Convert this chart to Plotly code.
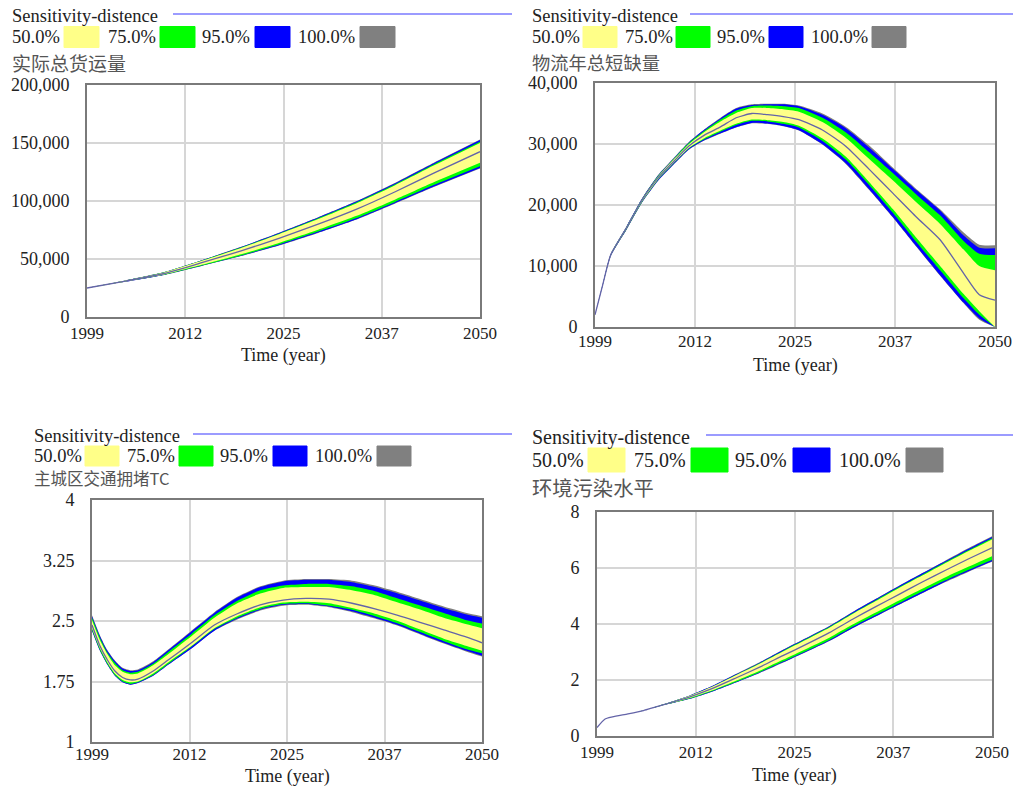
import plotly.graph_objects as go

W, H = 1013, 788

# ---------------- data ----------------
# Panel 1: 实际总货运量 (thousands)
p1_years = [1999, 2004, 2009, 2014, 2019, 2024, 2029, 2034, 2039, 2044, 2050]
p1_lo100 = [25.0, 30.5, 36.2, 44.2, 52.5, 61.8, 72.5, 84.0, 97.8, 112.0, 128.0]
p1_lo95 = [25.0, 30.5, 36.3, 44.3, 52.7, 62.0, 72.8, 84.3, 98.2, 112.4, 128.4]
p1_lo75 = [25.0, 30.6, 36.4, 44.6, 53.1, 62.7, 73.6, 85.3, 99.2, 113.7, 130.0]
p1_lo50 = [25.0, 30.7, 36.7, 45.2, 54.1, 64.0, 75.2, 87.2, 101.4, 116.2, 133.0]
p1_mid = [25.0, 31.0, 37.5, 47.0, 57.0, 68.0, 80.0, 93.0, 108.0, 124.0, 142.5]
p1_hi50 = [25.0, 31.4, 38.4, 48.6, 59.5, 71.5, 84.4, 98.1, 113.6, 130.5, 150.0]
p1_hi75 = [25.0, 31.4, 38.5, 48.9, 59.9, 72.0, 85.1, 98.9, 114.5, 131.5, 151.0]
p1_hi95 = [25.0, 31.5, 38.6, 49.1, 60.3, 72.6, 85.7, 99.7, 115.4, 132.6, 152.6]
p1_hi100 = [25.0, 31.5, 38.7, 49.2, 60.5, 72.8, 86.0, 100.0, 115.8, 133.0, 153.0]

# Panel 2: 物流年总短缺量 (thousands)
p2_years = [1999, 2000, 2001, 2003, 2005, 2007, 2009, 2011, 2013, 2015, 2017, 2019,
            2021, 2023, 2025, 2028, 2031, 2034, 2037, 2040, 2043, 2046, 2048, 2050]
p2_lo100 = [2.0, 6.9, 11.6, 15.9, 20.4, 23.9, 26.6, 29.1, 30.6, 31.7, 32.7, 33.4,
            33.3, 32.9, 32.2, 29.9, 26.7, 22.4, 17.9, 13.1, 8.4, 3.9, 1.2, 0.0]
p2_lo95 = [2.0, 6.9, 11.6, 15.95, 20.45, 23.95, 26.65, 29.15, 30.65, 31.75, 32.75, 33.45,
           33.35, 32.95, 32.25, 29.95, 26.8, 22.5, 18.0, 13.2, 8.5, 4.0, 1.4, 0.0]
p2_lo75 = [2.0, 6.95, 11.7, 16.0, 20.5, 24.1, 26.8, 29.3, 30.8, 32.0, 33.1, 33.8,
           33.7, 33.3, 32.7, 30.5, 27.4, 23.2, 18.7, 13.9, 9.3, 4.7, 2.0, 0.0]
p2_lo50 = [2.0, 6.95, 11.7, 16.1, 20.6, 24.2, 26.9, 29.4, 31.0, 32.2, 33.3, 34.0,
           33.9, 33.6, 33.0, 30.9, 27.9, 23.7, 19.3, 14.6, 10.0, 5.4, 2.6, 0.0]
p2_mid = [2.0, 7.0, 11.8, 16.2, 20.8, 24.4, 27.1, 29.7, 31.5, 32.8, 34.3, 35.0,
          34.8, 34.5, 34.0, 32.3, 29.6, 25.8, 21.9, 18.0, 14.3, 8.8, 5.3, 4.4]
p2_hi50 = [2.0, 7.0, 11.85, 16.3, 20.9, 24.6, 27.4, 30.0, 32.0, 33.7, 35.1, 35.9,
           35.9, 35.7, 35.3, 33.6, 31.0, 27.5, 24.0, 20.4, 16.9, 12.7, 10.0, 9.3]
p2_hi75 = [2.0, 7.05, 11.9, 16.35, 21.0, 24.7, 27.5, 30.2, 32.2, 34.0, 35.5, 36.2,
           36.3, 36.2, 35.9, 34.3, 31.9, 28.6, 25.2, 21.7, 18.3, 14.1, 12.0, 11.8]
p2_hi95 = [2.0, 7.1, 11.95, 16.4, 21.05, 24.8, 27.6, 30.3, 32.4, 34.2, 35.8, 36.4,
           36.5, 36.5, 36.2, 34.8, 32.6, 29.4, 25.9, 22.4, 19.1, 15.0, 13.0, 12.9]
p2_hi100 = [2.0, 7.1, 12.0, 16.45, 21.1, 24.85, 27.65, 30.35, 32.45, 34.3, 35.9, 36.5,
            36.6, 36.6, 36.3, 35.0, 32.8, 29.7, 26.1, 22.6, 19.3, 15.5, 13.5, 13.4]

# Panel 3: 主城区交通拥堵TC
p3_years = [1999, 2000, 2001, 2002, 2003, 2004, 2005, 2007, 2009, 2012, 2015, 2018,
            2021, 2024, 2027, 2030, 2033, 2036, 2039, 2042, 2045, 2048, 2050]
p3_lo100 = [2.38, 2.14, 1.96, 1.82, 1.74, 1.71, 1.73, 1.82, 1.96, 2.16, 2.38, 2.52,
            2.63, 2.69, 2.70, 2.67, 2.61, 2.53, 2.44, 2.33, 2.22, 2.12, 2.06]
p3_lo95 = [2.38, 2.14, 1.96, 1.82, 1.74, 1.71, 1.73, 1.82, 1.96, 2.16, 2.38, 2.53,
           2.64, 2.70, 2.71, 2.68, 2.62, 2.54, 2.45, 2.34, 2.23, 2.13, 2.07]
p3_lo75 = [2.39, 2.15, 1.97, 1.83, 1.75, 1.72, 1.74, 1.83, 1.97, 2.18, 2.40, 2.54,
           2.65, 2.71, 2.72, 2.69, 2.64, 2.56, 2.47, 2.36, 2.25, 2.15, 2.10]
p3_lo50 = [2.41, 2.17, 1.99, 1.85, 1.77, 1.74, 1.75, 1.85, 1.99, 2.19, 2.41, 2.56,
           2.67, 2.73, 2.74, 2.72, 2.66, 2.59, 2.50, 2.39, 2.28, 2.19, 2.13]
p3_mid = [2.45, 2.20, 2.02, 1.88, 1.80, 1.77, 1.78, 1.88, 2.02, 2.23, 2.45, 2.59,
          2.70, 2.76, 2.78, 2.77, 2.72, 2.65, 2.57, 2.48, 2.39, 2.30, 2.23]
p3_hi50 = [2.51, 2.27, 2.09, 1.95, 1.87, 1.84, 1.85, 1.95, 2.09, 2.31, 2.54, 2.72,
           2.84, 2.91, 2.92, 2.92, 2.88, 2.82, 2.73, 2.64, 2.54, 2.46, 2.41]
p3_hi75 = [2.54, 2.30, 2.11, 1.98, 1.89, 1.86, 1.87, 1.97, 2.12, 2.34, 2.57, 2.75,
           2.88, 2.94, 2.96, 2.96, 2.93, 2.87, 2.78, 2.69, 2.60, 2.51, 2.47]
p3_hi95 = [2.56, 2.32, 2.13, 2.00, 1.91, 1.88, 1.89, 1.99, 2.14, 2.37, 2.60, 2.79,
           2.92, 2.99, 3.01, 3.01, 2.98, 2.92, 2.84, 2.75, 2.66, 2.58, 2.54]
p3_hi100 = [2.57, 2.33, 2.14, 2.01, 1.92, 1.89, 1.90, 2.00, 2.15, 2.38, 2.61, 2.80,
            2.93, 3.00, 3.02, 3.02, 3.00, 2.94, 2.86, 2.77, 2.68, 2.60, 2.56]

# Panel 4: 环境污染水平
p4_years = [1999, 2000, 2001, 2003, 2005, 2008, 2011, 2014, 2017, 2020, 2023, 2026,
            2029, 2032, 2035, 2038, 2041, 2044, 2047, 2050]
p4_lo100 = [0.30, 0.60, 0.68, 0.79, 0.91, 1.13, 1.33, 1.60, 1.92, 2.25, 2.62, 3.00,
            3.39, 3.85, 4.27, 4.69, 5.10, 5.50, 5.87, 6.22]
p4_lo95 = [0.30, 0.60, 0.68, 0.79, 0.91, 1.13, 1.33, 1.60, 1.92, 2.26, 2.63, 3.01,
           3.40, 3.86, 4.28, 4.70, 5.11, 5.52, 5.89, 6.24]
p4_lo75 = [0.30, 0.60, 0.68, 0.79, 0.91, 1.13, 1.34, 1.62, 1.94, 2.28, 2.66, 3.04,
           3.43, 3.90, 4.32, 4.74, 5.16, 5.56, 5.94, 6.29]
p4_lo50 = [0.30, 0.60, 0.68, 0.79, 0.91, 1.14, 1.36, 1.64, 1.98, 2.33, 2.72, 3.11,
           3.51, 3.98, 4.41, 4.84, 5.26, 5.67, 6.05, 6.42]
p4_mid = [0.30, 0.60, 0.68, 0.79, 0.91, 1.15, 1.40, 1.71, 2.08, 2.46, 2.87, 3.27,
          3.69, 4.17, 4.62, 5.06, 5.50, 5.92, 6.33, 6.72]
p4_hi50 = [0.30, 0.60, 0.68, 0.79, 0.91, 1.16, 1.44, 1.78, 2.18, 2.58, 3.02, 3.44,
           3.87, 4.36, 4.82, 5.29, 5.73, 6.18, 6.61, 7.02]
p4_hi75 = [0.30, 0.60, 0.68, 0.79, 0.91, 1.17, 1.44, 1.78, 2.19, 2.60, 3.04, 3.46,
           3.89, 4.38, 4.85, 5.32, 5.76, 6.21, 6.64, 7.06]
p4_hi95 = [0.30, 0.60, 0.68, 0.79, 0.91, 1.17, 1.45, 1.80, 2.21, 2.62, 3.07, 3.49,
           3.92, 4.42, 4.89, 5.36, 5.81, 6.25, 6.69, 7.11]
p4_hi100 = [0.30, 0.60, 0.68, 0.79, 0.91, 1.17, 1.45, 1.80, 2.22, 2.63, 3.08, 3.50,
            3.93, 4.43, 4.90, 5.37, 5.82, 6.27, 6.71, 7.13]

titles = ["实际总货运量", "物流年总短缺量", "主城区交通拥堵TC", "环境污染水平"]
legend_labels = ["50.0%", "75.0%", "95.0%", "100.0%"]
x_tickvals = [1999, 2011.75, 2024.5, 2037.25, 2050]
x_ticktext = ["1999", "2012", "2025", "2037", "2050"]
y_ticks = [
    [0, 50000, 100000, 150000, 200000],
    [0, 10000, 20000, 30000, 40000],
    [1, 1.75, 2.5, 3.25, 4],
    [0, 2, 4, 6, 8],
]
y_ticktext = [
    ["0", "50,000", "100,000", "150,000", "200,000"],
    ["0", "10,000", "20,000", "30,000", "40,000"],
    ["1", "1.75", "2.5", "3.25", "4"],
    ["0", "2", "4", "6", "8"],
]

# ---------------- styling ----------------
C_YELLOW = "#ffff88"
C_GREEN = "#00ff00"
C_BLUE = "#0000ff"
C_GRAY = "#808080"
C_MID = "#6464a8"
SERIF = "Liberation Serif"
CJK = "Noto Sans CJK SC"

def X(p):
    return p / W

def Y(p):
    return 1 - p / H

# plot frames in pixels: (left, top, right, bottom)
frames = [(87, 85, 480, 317), (595, 83, 995, 327), (92, 500, 482, 742), (597, 512, 992, 736)]
time_title_offset = [38, 38, 34, 39]
x_standoff = [0, -2, -4, 0]

panels = [
    (p1_years, [v * 1000 for v in p1_lo100], [v * 1000 for v in p1_lo95], [v * 1000 for v in p1_lo75],
     [v * 1000 for v in p1_lo50], [v * 1000 for v in p1_mid], [v * 1000 for v in p1_hi50],
     [v * 1000 for v in p1_hi75], [v * 1000 for v in p1_hi95], [v * 1000 for v in p1_hi100]),
    (p2_years, [v * 1000 for v in p2_lo100], [v * 1000 for v in p2_lo95], [v * 1000 for v in p2_lo75],
     [v * 1000 for v in p2_lo50], [v * 1000 for v in p2_mid], [v * 1000 for v in p2_hi50],
     [v * 1000 for v in p2_hi75], [v * 1000 for v in p2_hi95], [v * 1000 for v in p2_hi100]),
    (p3_years, p3_lo100, p3_lo95, p3_lo75, p3_lo50, p3_mid, p3_hi50, p3_hi75, p3_hi95, p3_hi100),
    (p4_years, p4_lo100, p4_lo95, p4_lo75, p4_lo50, p4_mid, p4_hi50, p4_hi75, p4_hi95, p4_hi100),
]

fig = go.Figure()
layout = dict(
    width=W, height=H, margin=dict(l=0, r=0, t=0, b=0, autoexpand=False),
    paper_bgcolor="white", plot_bgcolor="white", showlegend=False,
)

annotations = []
shapes = []

headers = [
    dict(tx=10, hy=16, lx0=173, lx1=512, ly=37, ty=63,
         lab_x=[10, 106, 200, 296], sw_x=[64, 160, 255, 360], sw_w=35, sw_h=21, fs=18.5, tfs=19),
    dict(tx=530, hy=16, lx0=690, lx1=1013, ly=37, ty=62,
         lab_x=[530, 623, 715, 809], sw_x=[583, 676, 769, 872], sw_w=34, sw_h=21, fs=18.5, tfs=18.3),
    dict(tx=32, hy=436, lx0=193, lx1=512, ly=456, ty=478,
         lab_x=[32, 125, 218, 313], sw_x=[85, 179, 273, 377], sw_w=34, sw_h=20, fs=18.5, tfs=16.5),
    dict(tx=530, hy=437, lx0=706, lx1=1013, ly=460, ty=487,
         lab_x=[530, 632, 733, 837], sw_x=[588, 691, 793, 906], sw_w=37, sw_h=24, fs=20, tfs=20.3),
]
sw_colors = [C_YELLOW, C_GREEN, C_BLUE, C_GRAY]

for i, (data, fr, hd) in enumerate(zip(panels, frames, headers)):
    yrs, lo100, lo95, lo75, lo50, mid, hi50, hi75, hi95, hi100 = data
    xa = "x" if i == 0 else f"x{i+1}"
    ya = "y" if i == 0 else f"y{i+1}"
    pairs = [(lo100, hi100, C_GRAY), (lo95, hi95, C_BLUE), (lo75, hi75, C_GREEN), (lo50, hi50, C_YELLOW)]
    for lo, hi, col in pairs:
        fig.add_trace(go.Scatter(x=yrs, y=lo, mode="lines", line=dict(width=0, shape="spline", smoothing=0.6),
                                 xaxis=xa, yaxis=ya, hoverinfo="skip"))
        fig.add_trace(go.Scatter(x=yrs, y=hi, mode="lines", fill="tonexty", fillcolor=col,
                                 line=dict(width=0, shape="spline", smoothing=0.6),
                                 xaxis=xa, yaxis=ya, hoverinfo="skip"))
    fig.add_trace(go.Scatter(x=yrs, y=mid, mode="lines", line=dict(width=1.3, color=C_MID, shape="spline", smoothing=0.6),
                             xaxis=xa, yaxis=ya, hoverinfo="skip"))

    l, t, r, b = fr
    xkey = "xaxis" if i == 0 else f"xaxis{i+1}"
    ykey = "yaxis" if i == 0 else f"yaxis{i+1}"
    layout[xkey] = dict(
        domain=[X(l), X(r)], anchor=ya, range=[1999, 2050], automargin=False,
        tickvals=x_tickvals, ticktext=x_ticktext, showgrid=True, gridcolor="#d6d6d6", gridwidth=1.5,
        showline=True, linecolor="#7a7a7a", linewidth=2, mirror=True, zeroline=False,
        ticks="", tickfont=dict(family=SERIF, size=17, color="#222"), ticklabelstandoff=x_standoff[i],
    )
    yt = y_ticks[i]
    layout[ykey] = dict(
        domain=[Y(b), Y(t)], anchor=xa, range=[yt[0], yt[-1]], automargin=False,
        tickvals=yt, ticktext=y_ticktext[i], showgrid=True, gridcolor="#d6d6d6", gridwidth=1.5,
        showline=True, linecolor="#7a7a7a", linewidth=2, mirror=True, zeroline=False,
        ticks="", tickfont=dict(family=SERIF, size=18, color="#222"), ticklabelstandoff=12,
    )

    annotations.append(dict(text="Time (year)", x=X((l + r) / 2), y=Y(b + time_title_offset[i]),
                            xref="paper", yref="paper", xanchor="center", yanchor="middle",
                            showarrow=False, font=dict(family=SERIF, size=18, color="#222")))

    annotations.append(dict(text="Sensitivity-distence", x=X(hd["tx"]), y=Y(hd["hy"]), xref="paper", yref="paper",
                            xanchor="left", yanchor="middle", showarrow=False,
                            font=dict(family=SERIF, size=hd["fs"], color="#222")))
    shapes.append(dict(type="line", xref="paper", yref="paper", x0=X(hd["lx0"]), x1=X(hd["lx1"]),
                       y0=Y(hd["hy"] - 2), y1=Y(hd["hy"] - 2), line=dict(color="#7a7aff", width=1.5)))
    for lab, lx, sx, col in zip(legend_labels, hd["lab_x"], hd["sw_x"], sw_colors):
        annotations.append(dict(text=lab, x=X(lx), y=Y(hd["ly"]), xref="paper", yref="paper",
                                xanchor="left", yanchor="middle", showarrow=False,
                                font=dict(family=SERIF, size=hd["fs"], color="#222")))
        shapes.append(dict(type="rect", xref="paper", yref="paper",
                           x0=X(sx), x1=X(sx + hd["sw_w"]),
                           y0=Y(hd["ly"] + hd["sw_h"] / 2), y1=Y(hd["ly"] - hd["sw_h"] / 2),
                           fillcolor=col, line=dict(color=col, width=1)))
    annotations.append(dict(text=titles[i], x=X(hd["tx"]), y=Y(hd["ty"]), xref="paper", yref="paper",
                            xanchor="left", yanchor="middle", showarrow=False,
                            font=dict(family=CJK, size=hd["tfs"], color="#555")))

layout["annotations"] = annotations
layout["shapes"] = shapes
fig.update_layout(**layout)
fig.write_html("out.html")
